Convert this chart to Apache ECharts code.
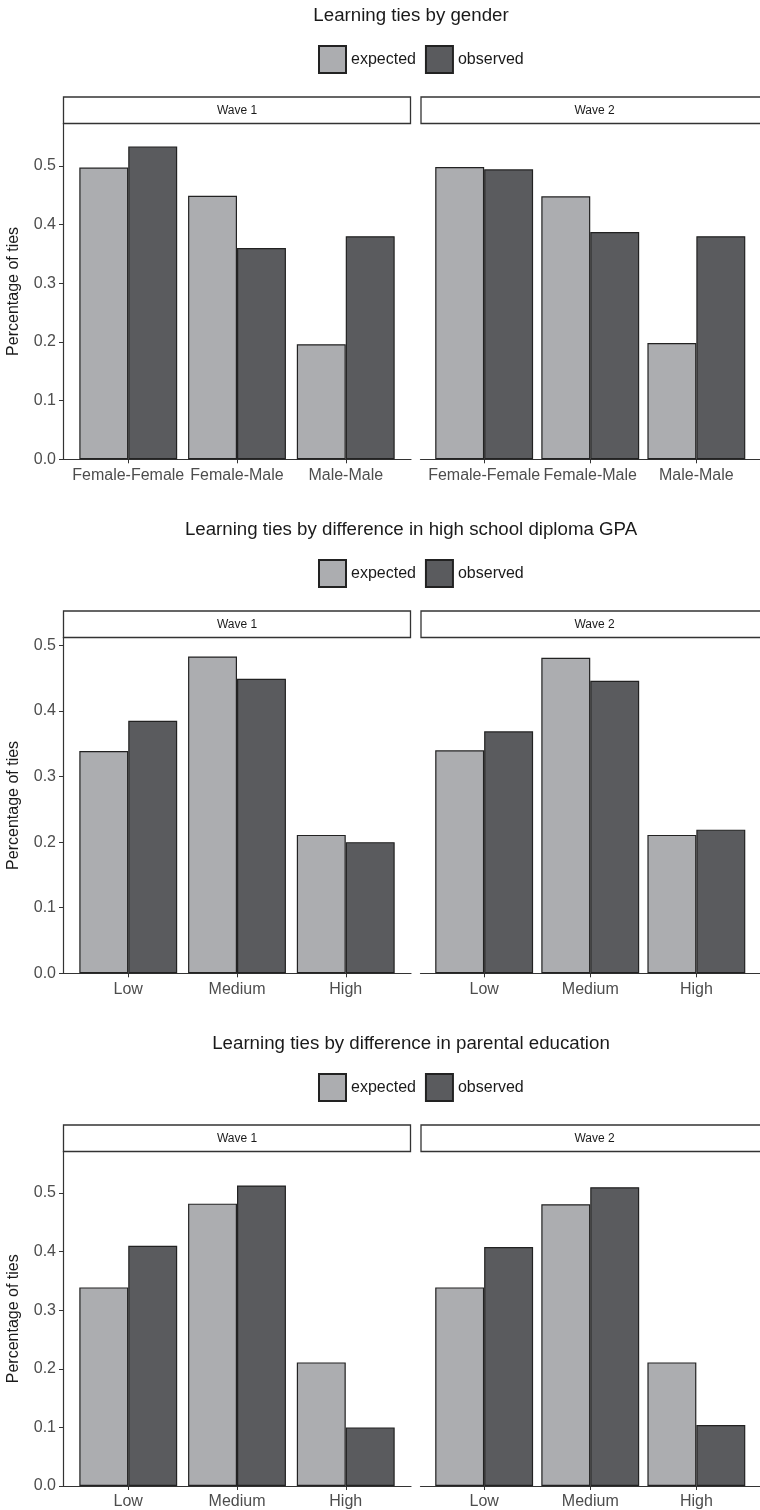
<!DOCTYPE html>
<html>
<head>
<meta charset="utf-8">
<title>Learning ties</title>
<script src="https://cdn.jsdelivr.net/npm/echarts@6/dist/echarts.min.js"></script>
<style>
  html, body { margin: 0; padding: 0; background: #ffffff; }
  #chart { width: 760px; height: 1510px; }
</style>
</head>
<body>
<div id="chart"></div>
<script>
// ---- data -------------------------------------------------------------
const panelTitles = [
  'Learning ties by gender',
  'Learning ties by difference in high school diploma GPA',
  'Learning ties by difference in parental education'
];
const genderCategories = ['Female-Female', 'Female-Male', 'Male-Male'];
const levelCategories = ['Low', 'Medium', 'High'];
const waveLabels = ['Wave 1', 'Wave 2'];
const groupNames = ['expected', 'observed'];
const yAxisTitle = 'Percentage of ties';
const yTickValues = [0, 0.1, 0.2, 0.3, 0.4, 0.5];
const yUpperLimits = [0.572, 0.512, 0.571];

const genderW1Expected = [0.497, 0.449, 0.196];
const genderW1Observed = [0.533, 0.360, 0.380];
const genderW2Expected = [0.498, 0.448, 0.198];
const genderW2Observed = [0.494, 0.387, 0.380];

const gpaW1Expected = [0.339, 0.483, 0.211];
const gpaW1Observed = [0.385, 0.449, 0.200];
const gpaW2Expected = [0.340, 0.481, 0.211];
const gpaW2Observed = [0.369, 0.446, 0.219];

const parentW1Expected = [0.339, 0.482, 0.211];
const parentW1Observed = [0.410, 0.513, 0.100];
const parentW2Expected = [0.339, 0.481, 0.211];
const parentW2Observed = [0.408, 0.510, 0.104];

const panels = [
  { title: panelTitles[0], categories: genderCategories, yMax: yUpperLimits[0],
    waves: [[genderW1Expected, genderW1Observed], [genderW2Expected, genderW2Observed]] },
  { title: panelTitles[1], categories: levelCategories, yMax: yUpperLimits[1],
    waves: [[gpaW1Expected, gpaW1Observed], [gpaW2Expected, gpaW2Observed]] },
  { title: panelTitles[2], categories: levelCategories, yMax: yUpperLimits[2],
    waves: [[parentW1Expected, parentW1Observed], [parentW2Expected, parentW2Observed]] }
];

// ---- layout & style ---------------------------------------------------
const FONT = '"Liberation Sans", Arial, Helvetica, sans-serif';
const PANEL_STEP = 514;
const TITLE_CX = 411, TITLE_Y = 6, TITLE_SIZE = 18.7;
const LEGEND_X = 318, LEGEND_Y = 45, LEGEND_BOX = 27;
const STRIP_Y = 97, STRIP_H = 26.5;
const PLOT_Y = 123.5, PLOT_H = 335.8;
const FACET_X = [63, 420.5], FACET_W = 348;
const X_PAD = 0.6;      // discrete-axis expansion on each side
const BAR_FRAC = 0.9;   // share of a category occupied by the dodged pair
const FILLS = ['#acadb0', '#5a5b5e'];
const OUTLINE = '#222222';
const AXIS_COLOR = '#333333';
const TICK_TEXT = '#4d4d4d';

const grids = [], xAxes = [], yAxes = [], series = [], legends = [], graphics = [];

panels.forEach((panel, p) => {
  const offset = p * PANEL_STEP;
  const n = panel.categories.length;
  const unitsAcross = (n - 1) + 2 * X_PAD;
  const barWidth = FACET_W / unitsAcross * BAR_FRAC / 2;

  // panel title
  graphics.push({
    type: 'text', x: TITLE_CX, y: offset + TITLE_Y, silent: true,
    style: {
      text: panel.title, fill: '#1a1a1a', fontSize: TITLE_SIZE, fontFamily: FONT,
      align: 'center', textAlign: 'center', verticalAlign: 'top', textVerticalAlign: 'top'
    }
  });

  // legend
  legends.push({
    left: LEGEND_X, top: offset + LEGEND_Y, padding: 0,
    orient: 'horizontal', itemWidth: LEGEND_BOX, itemHeight: LEGEND_BOX, itemGap: 9,
    icon: 'rect', selectedMode: false,
    data: groupNames.slice(),
    textStyle: { fontSize: 16, fontFamily: FONT, color: '#1a1a1a', padding: [0, 0, 0, 0] }
  });

  panel.waves.forEach((pair, w) => {
    const idx = p * 2 + w;
    const left = FACET_X[w];
    const top = offset + PLOT_Y;

    grids.push({ left: left, top: top, width: FACET_W, height: PLOT_H, containLabel: false });

    xAxes.push({
      type: 'value', gridIndex: idx,
      min: 1 - X_PAD, max: n + X_PAD,
      axisLine: { show: true, onZero: false, lineStyle: { color: AXIS_COLOR, width: 1.2 } },
      axisTick: { show: true, length: 4, customValues: panel.categories.map((c, i) => i + 1),
                  lineStyle: { color: AXIS_COLOR, width: 1 } },
      axisLabel: {
        show: true, margin: 8, fontSize: 16, fontFamily: FONT, color: TICK_TEXT,
        customValues: panel.categories.map((c, i) => i + 1),
        formatter: v => panel.categories[Math.round(v) - 1] || ''
      },
      splitLine: { show: false }
    });

    const yAxis = {
      type: 'value', gridIndex: idx, min: 0, max: panel.yMax,
      splitLine: { show: false }
    };
    if (w === 0) {
      Object.assign(yAxis, {
        axisLine: { show: true, onZero: false, lineStyle: { color: AXIS_COLOR, width: 1.2 } },
        axisTick: { show: true, length: 4, customValues: yTickValues,
                    lineStyle: { color: AXIS_COLOR, width: 1 } },
        axisLabel: { show: true, margin: 7, fontSize: 16, fontFamily: FONT, color: TICK_TEXT,
                     customValues: yTickValues, formatter: v => v.toFixed(1) },
        name: yAxisTitle, nameLocation: 'middle', nameGap: 41, nameRotate: 90,
        nameTextStyle: { fontSize: 16, fontFamily: FONT, color: '#1a1a1a' }
      });
    } else {
      Object.assign(yAxis, {
        axisLine: { show: false }, axisTick: { show: false }, axisLabel: { show: false }
      });
    }
    yAxes.push(yAxis);

    pair.forEach((values, s) => {
      series.push({
        type: 'bar', name: groupNames[s],
        xAxisIndex: idx, yAxisIndex: idx,
        data: values.map((v, i) => [i + 1, v]),
        barWidth: barWidth, barGap: '0%',
        itemStyle: { color: FILLS[s], borderColor: OUTLINE, borderWidth: 1.2 },
        emphasis: { disabled: true },
        silent: true
      });
    });

    // facet strip
    graphics.push({
      type: 'group', silent: true,
      children: [
        { type: 'rect',
          shape: { x: left + 0.5, y: offset + STRIP_Y, width: FACET_W - 1, height: STRIP_H },
          style: { fill: '#ffffff', stroke: AXIS_COLOR, lineWidth: 1.3 } },
        { type: 'text', x: left + FACET_W / 2, y: offset + STRIP_Y + STRIP_H / 2,
          style: { text: waveLabels[w], fill: '#1a1a1a', fontSize: 12, fontFamily: FONT,
                   align: 'center', textAlign: 'center',
                   verticalAlign: 'middle', textVerticalAlign: 'middle' } }
      ]
    });
  });
});

const chart = echarts.init(document.getElementById('chart'), null, { renderer: 'canvas' });
chart.setOption({
  animation: false,
  backgroundColor: '#ffffff',
  textStyle: { fontFamily: FONT },
  grid: grids,
  xAxis: xAxes,
  yAxis: yAxes,
  legend: legends,
  series: series,
  graphic: { elements: graphics }
});
</script>
</body>
</html>
